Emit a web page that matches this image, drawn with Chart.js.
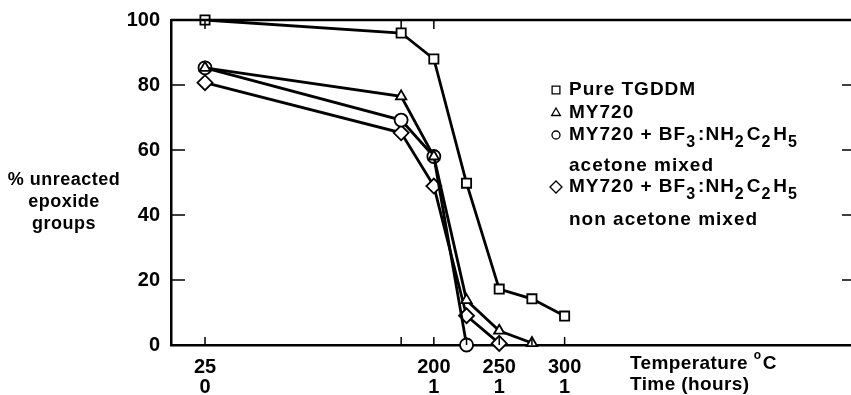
<!DOCTYPE html>
<html>
<head>
<meta charset="utf-8">
<script src="https://cdn.jsdelivr.net/npm/chart.js@4"></script>
<style>
  html, body { margin: 0; padding: 0; background: #fff; }
  #wrap { width: 851px; height: 395px; }
</style>
</head>
<body>
<div id="wrap"><canvas id="chart" width="851" height="395"></canvas></div>
<script>
// temperature (deg C) of each measurement
const temps = [25, 175, 200, 225, 250, 275, 300];
// % unreacted epoxide groups
const pureTGDDM = [100, 96, 88, 49.8, 17.2, 14.2, 8.9];
const my720 = [85.3, 76.5, 58, 13.8, 4.4, 0.6];
const my720Acetone = [85.3, 69.2, 58, 0];
const my720NonAcetone = [80.7, 65.3, 48.9, 9, 0.5];

// axis labels
const tickTemps = [25, 200, 250, 300];
const tickTimes = [0, 1, 1, 1];
const yTicks = [0, 20, 40, 60, 80, 100];
const bottomMarks = [25, 175, 200, 225, 250, 275, 300];
const topMarks = [25, 175, 200];
const sideMarks = [20, 40, 60, 80];

const FONT = '"Liberation Sans", Arial, sans-serif';

// legend rows: [pointStyle, marker radius, [[text, isSubscript], ...]]
const legendRows = [
    ['rect', 5.5, [['Pure TGDDM', false]]],
    ['triangle', 5, [['MY720', false]]],
    ['circle', 4, [['MY720 + BF', false], ['3', true], [':NH', false], ['2', true], ['C', false], ['2', true], ['H', false], ['5', true]]],
    [null, 0, [['acetone mixed', false]]],
    ['rectRot', 6, [['MY720 + BF', false], ['3', true], [':NH', false], ['2', true], ['C', false], ['2', true], ['H', false], ['5', true]]],
    [null, 0, [['non acetone mixed', false]]]
];
const legendY = [90, 113, 135, 166, 187, 220];

function series(values, style, radius) {
    return {
        data: values.map((v, i) => ({ x: temps[i], y: v })),
        borderColor: '#000',
        borderWidth: 2.8,
        pointStyle: style,
        pointRadius: radius,
        pointBackgroundColor: '#fff',
        pointBorderColor: '#000',
        pointBorderWidth: 1.8,
        tension: 0,
        clip: false
    };
}

const decorPlugin = {
    id: 'decor',
    afterDraw(chart) {
        const ctx = chart.ctx;
        const x = chart.scales.x, y = chart.scales.y;
        const a = chart.chartArea;
        ctx.save();
        ctx.strokeStyle = '#000';
        // top frame line
        ctx.lineWidth = 2.5;
        ctx.beginPath();
        ctx.moveTo(a.left, a.top);
        ctx.lineTo(a.right, a.top);
        ctx.stroke();
        // inner tick marks
        ctx.lineWidth = 1.5;
        ctx.beginPath();
        bottomMarks.forEach(v => {
            const px = x.getPixelForValue(v);
            ctx.moveTo(px, a.bottom);
            ctx.lineTo(px, a.bottom - 8);
        });
        topMarks.forEach(v => {
            const px = x.getPixelForValue(v);
            ctx.moveTo(px, a.top);
            ctx.lineTo(px, a.top + 9);
        });
        sideMarks.forEach(v => {
            const py = y.getPixelForValue(v);
            ctx.moveTo(a.left, py);
            ctx.lineTo(a.left + 14, py);
            ctx.moveTo(a.right, py);
            ctx.lineTo(a.right - 9, py);
        });
        ctx.stroke();

        ctx.fillStyle = '#000';
        // y axis title
        ctx.letterSpacing = '0.5px';
        ctx.font = 'bold 18px ' + FONT;
        ctx.textAlign = 'center';
        ctx.textBaseline = 'middle';
        ['% unreacted', 'epoxide', 'groups'].forEach((t, i) => ctx.fillText(t, 64, 180 + i * 22));

        // x axis titles
        ctx.textAlign = 'left';
        ctx.letterSpacing = '0.4px';
        ctx.font = 'bold 19px ' + FONT;
        ctx.fillText('Temperature', 630, 364);
        const tw = ctx.measureText('Temperature ').width;
        ctx.font = 'bold 12px ' + FONT;
        ctx.fillText('o', 630 + tw, 356);
        ctx.font = 'bold 19px ' + FONT;
        ctx.fillText('C', 630 + tw + 9, 364);
        ctx.fillText('Time (hours)', 630, 385);

        // legend
        ctx.letterSpacing = '1px';
        legendRows.forEach(([style, r, parts], i) => {
            const yy = legendY[i];
            if (style) {
                ctx.lineWidth = 1.3;
                ctx.strokeStyle = '#000';
                ctx.fillStyle = '#fff';
                Chart.helpers.drawPoint(ctx, { pointStyle: style, radius: r, rotation: 0, borderWidth: 1.3 }, 556, yy);
            }
            ctx.fillStyle = '#000';
            let cx = 569;
            parts.forEach(([t, sub]) => {
                ctx.font = sub ? 'bold 16px ' + FONT : 'bold 19px ' + FONT;
                ctx.fillText(t, cx, sub ? yy + 8 : yy);
                cx += ctx.measureText(t).width + (sub ? 2 : 0);
            });
        });
        ctx.restore();
    }
};

new Chart(document.getElementById('chart'), {
    type: 'line',
    data: {
        datasets: [
            series(pureTGDDM, 'rect', 6.5),
            series(my720, 'triangle', 6),
            series(my720Acetone, 'circle', 6.5),
            series(my720NonAcetone, 'rectRot', 7.5)
        ]
    },
    options: {
        responsive: false,
        animation: false,
        layout: { autoPadding: false, padding: { top: 20, right: 0, left: 0, bottom: 0 } },
        plugins: { legend: { display: false }, tooltip: { enabled: false } },
        scales: {
            x: {
                type: 'linear',
                min: -1,
                max: 519,
                afterBuildTicks: s => { s.ticks = tickTemps.map(v => ({ value: v })); },
                afterFit: s => { s.height = 50; s.paddingLeft = 0; s.paddingRight = 0; },
                grid: { display: false, drawTicks: false },
                border: { color: '#000', width: 2.5 },
                ticks: {
                    callback: v => [String(v), String(tickTimes[tickTemps.indexOf(v)])],
                    color: '#000',
                    font: { family: FONT, size: 20, weight: 'bold', lineHeight: 1.0 },
                    maxRotation: 0,
                    autoSkip: false,
                    padding: 12
                }
            },
            y: {
                min: 0,
                max: 100,
                afterBuildTicks: s => { s.ticks = yTicks.map(v => ({ value: v })); },
                afterFit: s => { s.width = 171; s.paddingTop = 0; s.paddingBottom = 0; },
                grid: { display: false, drawTicks: false },
                border: { color: '#000', width: 2.5 },
                ticks: {
                    color: '#000',
                    font: { family: FONT, size: 20, weight: 'bold' },
                    padding: 11
                }
            }
        }
    },
    plugins: [decorPlugin]
});
</script>
</body>
</html>
